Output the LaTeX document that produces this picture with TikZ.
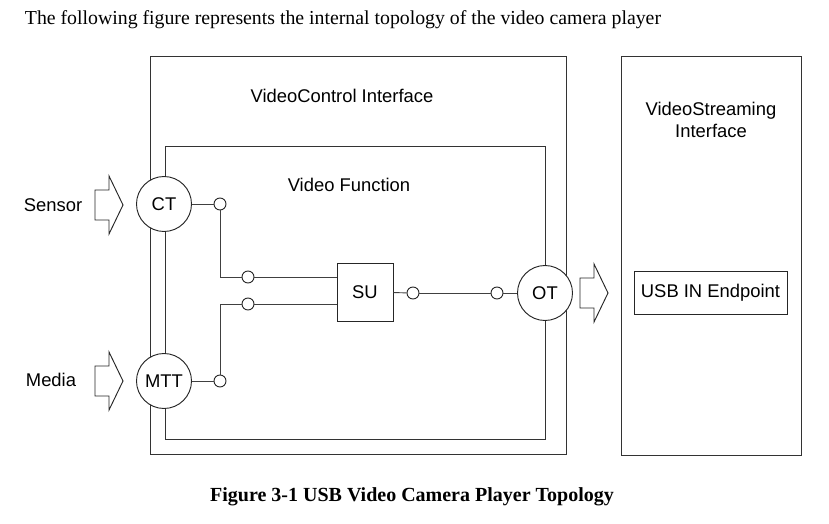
\documentclass[tikz,border=0pt]{standalone}
\usepackage{fontspec}
\setmainfont{Liberation Serif}
\newfontfamily\arialfont{Liberation Sans}
\usetikzlibrary{positioning}
\begin{document}
\begin{tikzpicture}[x=0.75pt,y=-0.75pt,line width=0.7pt,
  every node/.style={font=\arialfont\fontsize{13.8}{16.5}\selectfont},
  unit/.style={draw=black!85,circle,fill=white,minimum size=41.25pt,inner sep=0pt},
  port/.style={draw=black!85,circle,fill=white,minimum size=9pt,inner sep=0pt},
  wire/.style={draw=black!75},
  frame/.style={draw=black!80},
  blockarrow/.pic={\draw[black!85,fill=white] (0,-15)--(14,-15)--(14,-29)--(28,0)--(14,29)--(14,15)--(0,15)--cycle;}]
\useasboundingbox (0,0) rectangle (829,524);
% header and caption
\node[anchor=west,font=\rmfamily\fontsize{14.85}{17}\selectfont] (head) at (20,20) {The following figure represents the internal topology of the video camera player};
\node[font=\rmfamily\bfseries\fontsize{15}{17}\selectfont] (cap) at (412,497) {Figure 3-1 USB Video Camera Player Topology};
% interface frames
\draw[frame] (150,56) rectangle (566,454);
\draw[frame] (165,146) rectangle (545,439);
\draw[frame] (621,56) rectangle (801,455);
\node (vci) at (342,96) {VideoControl Interface};
\node (vf) at (349,185) {Video Function};
\node[align=center] (vsi) at (711,120) {VideoStreaming\\Interface};
% entities
\node[unit] (ct) at (164,204) {CT};
\node[unit] (mtt) at (164,381) {MTT};
\node[unit] (ot) at (545,293) {OT};
\node[draw=black!85,fill=white,minimum width=42pt,minimum height=43.5pt,inner sep=0pt] (su) at (365,292) {SU};
\node[draw=black!85,minimum width=114.75pt,minimum height=32.25pt,inner sep=0pt] (usb) at (710.5,292.5) {USB IN Endpoint};
\node (sensor) at (53,205) {Sensor};
\node (media) at (51,380) {Media};
% ports
\foreach \n/\px/\py in {p1/220/204,p2/248/277,p3/248/304,p4/220/381,p5/413/293,p6/497/293}
  {\node[port] (\n) at (\px,\py) {};}
% wiring
\draw[wire] (ct) -- (p1); \draw[wire] (p1) |- (p2); \draw[wire] (p2) -- (su.west|-p2);
\draw[wire] (mtt) -- (p4); \draw[wire] (p4) |- (p3); \draw[wire] (p3) -- (su.west|-p3);
\draw[wire] (su) -- (p5); \draw[wire] (p5) -- (p6); \draw[wire] (p6) -- (ot);
% flow arrows
\pic at (95,205) {blockarrow};
\pic at (95,381) {blockarrow};
\pic at (580,293) {blockarrow};
\end{tikzpicture}
\end{document}
